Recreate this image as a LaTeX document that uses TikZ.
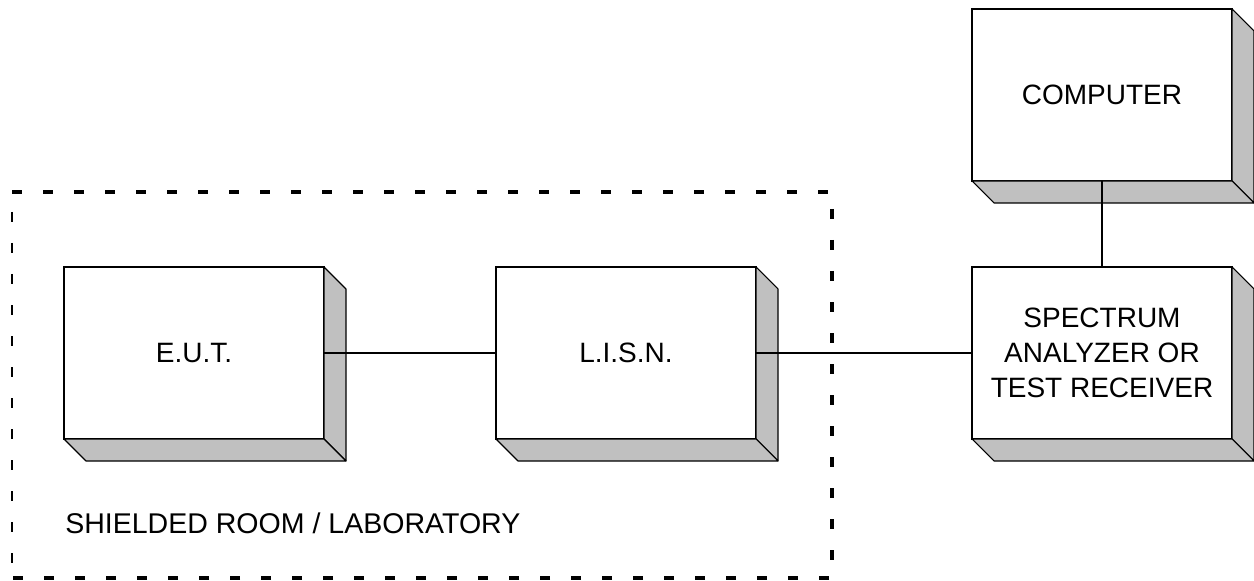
\documentclass[tikz,border=0pt]{standalone}
\usepackage{fontspec}
\setmainfont{Liberation Sans}
\definecolor{sidegray}{RGB}{192,192,192}
\tikzset{
  unit box/.style={draw, line width=1pt, fill=white, minimum width=195pt, minimum height=129pt,
    inner sep=0pt, outer sep=0pt, align=center, font=\fontsize{21}{26.25}\selectfont},
  depth face/.style={fill=sidegray, draw, line width=0.8pt, line join=round},
  wire/.style={line width=0.8pt},
  room/.style={line width=3pt, dash pattern=on 7.5pt off 15.75pt},
  room thin/.style={line width=1.4pt, dash pattern=on 7.5pt off 15.75pt},
  room label/.style={anchor=base west, inner sep=0pt, font=\fontsize{21.4}{26}\selectfont},
}
\begin{document}
\begin{tikzpicture}[x=0.75pt,y=-0.75pt]
\useasboundingbox (0,0) rectangle (1254,581);
\coordinate (rtl) at (12,192);
\coordinate (rtr) at (832,192);
\coordinate (rbr) at (832,578);
\coordinate (rbl) at (12,578);
\draw[room] (rtl) -- (rtr) -- (rbr) -- (rbl);
\draw[room thin] ([yshift=-15pt]rtl) -- (rbl);
\node[unit box] (eut) at (194,353) {E.U.T.};
\node[unit box] (lisn) at (626,353) {L.I.S.N.};
\node[unit box] (sa) at (1102,353) {SPECTRUM\\ANALYZER OR\\TEST RECEIVER};
\node[unit box] (pc) at (1102,95) {COMPUTER};
\foreach \n in {eut,lisn,sa,pc} {
  \draw[depth face] (\n.north east) -- ([shift={(22,22)}]\n.north east) -- ([shift={(22,22)}]\n.south east) -- (\n.south east) -- cycle;
  \draw[depth face] (\n.south west) -- (\n.south east) -- ([shift={(22,22)}]\n.south east) -- ([shift={(22,22)}]\n.south west) -- cycle;
}
\draw[wire] (eut.east) -- (lisn.west);
\draw[wire] (lisn.east) -- (sa.west);
\draw[wire] (pc.south) -- (sa.north);
\node[room label] (roomlabel) at (65,533) {SHIELDED ROOM / LABORATORY};
\end{tikzpicture}
\end{document}
